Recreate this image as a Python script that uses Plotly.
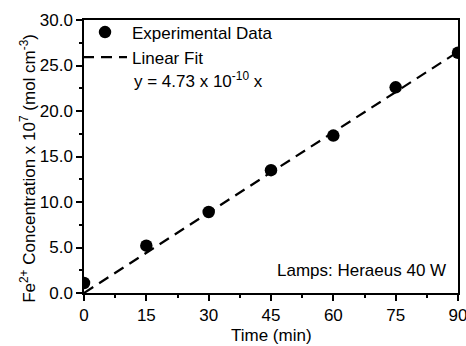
import plotly.graph_objects as go

# Data
time_min = [0, 15, 30, 45, 60, 75, 90]
fe_conc = [1.1, 5.2, 8.9, 13.5, 17.3, 22.6, 26.4]   # x 10^-7 mol cm^-3
fit_time = [0, 90]
fit_conc = [0.0, 26.5]

x_ticks = [0, 15, 30, 45, 60, 75, 90]
y_ticks = [0, 5, 10, 15, 20, 25, 30]
right_ticks = [2.5, 7.5, 12.5, 17.5, 22.5, 27.5]

FONT = "Liberation Sans, Arial, sans-serif"

fig = go.Figure()
fig.add_trace(go.Scatter(
    x=time_min, y=fe_conc, mode="markers", name="Experimental Data",
    marker=dict(color="black", size=12.5, symbol="circle"),
))
fig.add_trace(go.Scatter(
    x=fit_time, y=fit_conc, mode="lines", name="Linear Fit",
    line=dict(color="black", width=2.2, dash="11px,7px"),
))

fig.update_layout(
    width=466, height=346,
    margin=dict(l=84, r=8, t=20, b=53),
    paper_bgcolor="white", plot_bgcolor="white",
    font=dict(family=FONT, size=17, color="black"),
    showlegend=True,
    legend=dict(x=-0.016, y=1.02, xanchor="left", yanchor="top",
                bgcolor="rgba(0,0,0,0)", borderwidth=0, itemwidth=44,
                font=dict(size=17), tracegroupgap=0),
    xaxis=dict(
        range=[0, 90], tickvals=x_ticks, ticktext=[str(v) for v in x_ticks],
        ticks="outside", ticklen=6, tickwidth=1.5, tickcolor="black",
        minor=dict(dtick=7.5, tick0=0, ticks="outside", ticklen=3, tickwidth=1.5, tickcolor="black"),
        showline=True, linecolor="black", linewidth=1.5, mirror=True,
        showgrid=False, zeroline=False, automargin=False,
        ticklabeloverflow="allow",
        tickfont=dict(size=17),
    ),
    yaxis=dict(
        range=[0, 30], tickvals=y_ticks, tickformat=".1f",
        ticks="outside", ticklen=6, tickwidth=1.5, tickcolor="black",
        minor=dict(dtick=2.5, tick0=0, ticks="outside", ticklen=3, tickwidth=1.5, tickcolor="black"),
        showline=True, linecolor="black", linewidth=1.5, mirror=True,
        showgrid=False, zeroline=False, automargin=False,
        ticklabeloverflow="allow",
        tickfont=dict(size=17),
    ),
    yaxis2=dict(
        overlaying="y", side="right", range=[0, 30], tickvals=right_ticks,
        ticks="inside", ticklen=4, tickwidth=1.5, tickcolor="black",
        showticklabels=False, showgrid=False, zeroline=False, showline=False,
        automargin=False,
    ),
)

# Axis titles
fig.add_annotation(
    x=0.5, y=-0.156, xref="paper", yref="paper", xanchor="center", yanchor="middle",
    text="Time (min)", showarrow=False, font=dict(size=17),
)
fig.add_annotation(
    x=-0.150, y=0.458, xref="paper", yref="paper", xanchor="center", yanchor="middle",
    text="Fe<sup>2+</sup> Concentration x 10<sup>7</sup> (mol cm<sup>-3</sup>)",
    textangle=-90, showarrow=False, font=dict(size=17),
)

# In-plot labels
fig.add_annotation(
    x=0.128, y=0.78, xref="paper", yref="paper", xanchor="left", yanchor="middle",
    text="y = 4.73 x 10<sup>-10</sup> x", showarrow=False, font=dict(size=17),
)
fig.add_annotation(
    x=0.973, y=0.084, xref="paper", yref="paper", xanchor="right", yanchor="middle",
    text="Lamps: Heraeus 40 W", showarrow=False, font=dict(size=17),
)

fig.write_html("out.html")
